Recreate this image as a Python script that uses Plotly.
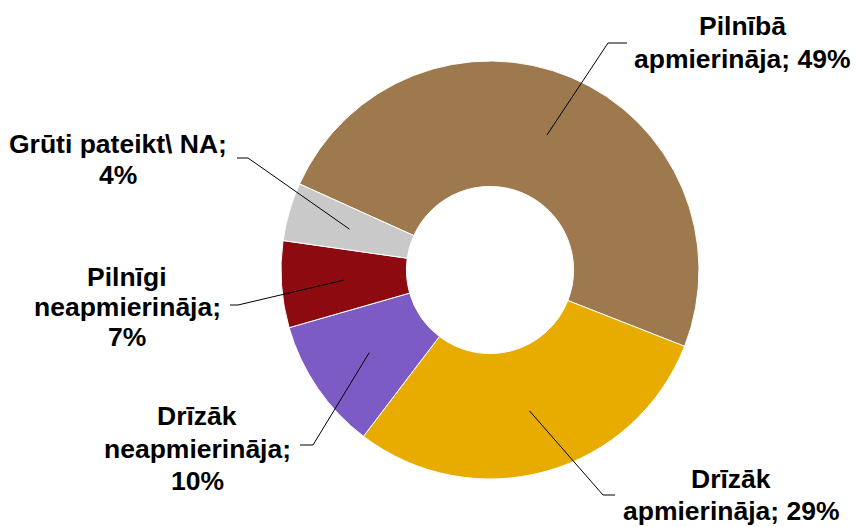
import math
import plotly.graph_objects as go

# ---- data ----
categories = ["Pilnībā apmierināja", "Drīzāk apmierināja", "Drīzāk neapmierināja",
              "Pilnīgi neapmierināja", "Grūti pateikt\\ NA"]
values = [49.2, 29.4, 10.2, 6.7, 4.5]
label_lines = [
    ["Pilnībā", "apmierināja; 49%"],
    ["Drīzāk", "apmierināja; 29%"],
    ["Drīzāk", "neapmierināja;", "10%"],
    ["Pilnīgi", "neapmierināja;", "7%"],
    ["Grūti pateikt\\ NA;", "4%"],
]
colors = ["#9D794D", "#E8AC00", "#7C5CC4", "#8C0A10", "#C9C9C9"]

# ---- layout (pixels) ----
W, H = 856, 527
CX, CY, R = 490, 270, 209
HOLE = 0.40
ROTATION = -65.7
# label placement: (center x, first-line y, line spacing)
label_pos = [(742, 26, 33), (731, 479, 32), (197, 416, 32.5), (127, 277, 30), (118, 144, 31)]
# leader line: elbow point and end point
leader_pts = [((608, 43), (627, 43)), ((603, 495), (615, 495)), ((313, 445), (300, 445)),
              ((238, 305), (230, 305)), ((248, 158), (237, 158))]

def px(x):
    return x / W

def py(y):
    return 1 - y / H

fig = go.Figure()
fig.add_trace(go.Pie(
    labels=categories, values=values, hole=HOLE, sort=False, direction="clockwise",
    rotation=ROTATION, textinfo="none", hoverinfo="label+percent",
    marker=dict(colors=colors, line=dict(color="white", width=1)),
    domain=dict(x=[px(CX - R), px(CX + R)], y=[py(CY + R), py(CY - R)]),
    showlegend=False,
))

font = dict(family="Arial, Liberation Sans, sans-serif", size=26.5, color="black", weight="bold")
annotations = []
shapes = []
total = sum(values)
cum = 0.0
rmid = R * (1 + HOLE) / 2
for i, v in enumerate(values):
    ang = math.radians(ROTATION + (cum + v / 2) / total * 360)
    cum += v
    sx, sy = CX + rmid * math.sin(ang), CY - rmid * math.cos(ang)
    (ex, ey), (tx, ty) = leader_pts[i]
    shapes.append(dict(type="path", xref="paper", yref="paper",
                       path=f"M {px(sx)} {py(sy)} L {px(ex)} {py(ey)} L {px(tx)} {py(ty)}",
                       line=dict(color="black", width=1)))
    lx, ly, sp = label_pos[i]
    for j, t in enumerate(label_lines[i]):
        annotations.append(dict(text=t, x=px(lx), y=py(ly + j * sp), xref="paper", yref="paper",
                                xanchor="center", yanchor="middle", showarrow=False, font=font))

fig.update_layout(width=W, height=H, margin=dict(l=0, r=0, t=0, b=0),
                  paper_bgcolor="white", plot_bgcolor="white",
                  annotations=annotations, shapes=shapes)
fig.write_html("out.html", config={"displayModeBar": False},
               post_script="document.body.style.margin='0';document.body.style.overflow='hidden';")
